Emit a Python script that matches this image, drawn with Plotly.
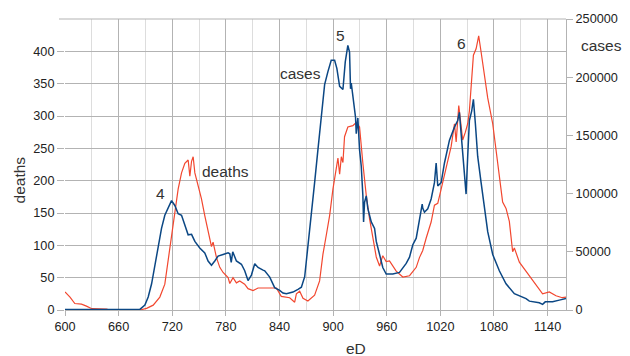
import plotly.graph_objects as go

# ---- data ----
deaths_x = [600, 605.6, 611, 618.5, 624, 630, 646.5, 650, 683.8, 691.3, 698.7, 706.1, 711.7, 715.4,
            719.2, 722.9, 726.6, 730.4, 734.1, 737.8, 739.7, 741.6, 743.4, 745.3, 748.9, 752.7,
            756.4, 760.1, 763.9, 765.7, 769.5, 773.2, 776.9, 782.5, 784.4, 788, 791.8, 795.5,
            801, 804.8, 810.4, 816, 825.4, 836.5, 842, 851.4, 857, 858.9, 862.6, 866.3, 871.8,
            879.3, 884.9, 888.6, 892.4, 896.1, 899.8, 903.6, 905.4, 907.3, 909.2, 911, 912.8,
            916.5, 922.1, 925.9, 929.6, 933.3, 937.1, 940.8, 944.5, 948.3, 952, 955.6, 959.4,
            963.1, 970.6, 978, 985.5, 993, 996.6, 1000.3, 1004.1, 1009.7, 1013.4, 1017.1, 1020.9,
            1026.5, 1032.1, 1035.8, 1037.7, 1040.6, 1043.2, 1045, 1048, 1050.6, 1052.5, 1054.4,
            1057, 1060, 1061.5, 1062.9, 1065.6, 1069.3, 1073, 1078.6, 1082.4, 1086, 1089.7,
            1093.5, 1097.2, 1100.9, 1102.8, 1108.4, 1115.9, 1121.4, 1127, 1134.4, 1141.9,
            1149.4, 1156.4, 1160.6]
deaths = [28, 20, 10, 9, 6, 2, 1.5, 0, 0, 2.5, 7.5, 20, 40, 76,
          121, 151, 187, 212, 227, 232, 207, 230, 237, 212, 194, 172,
          146, 121, 98, 105, 81, 66, 58, 50, 41, 50, 42, 45,
          40, 33, 30, 34, 34, 34, 21, 19, 12, 25, 29, 18, 14,
          23, 45, 86, 116, 146, 187, 222, 235, 210, 237, 228, 268,
          283, 285, 290, 283, 227, 177, 141, 111, 82, 68, 84, 75,
          76, 60, 51, 53, 66, 81, 92, 111, 136, 162, 165, 187,
          222, 253, 288, 260, 316, 288, 263, 275, 288, 308, 348,
          394, 404, 412, 424, 399, 364, 328, 288, 247, 202, 167,
          157, 137, 90, 96, 74, 60, 50, 40, 25, 28,
          22, 19, 20]

cases_x = [600, 683.8, 689.4, 693.1, 696.9, 700.6, 704.2, 708, 711.7, 715.4, 719.2, 722.9, 726.6,
           730.4, 734.1, 737.8, 741.6, 745.3, 750.8, 756.4, 760.1, 763.9, 767.6, 771.3, 776.9,
           782.5, 784.4, 786, 787.7, 791.8, 797.4, 801.1, 804.8, 808.6, 812.3, 816, 821.6,
           823.5, 829.1, 834.6, 840.2, 843.9, 847.7, 855.1, 860.7, 864.5, 868.2, 871.8, 875.6,
           879.3, 883, 886.8, 890.5, 894.2, 897.9, 901.7, 904.2, 907.3, 911, 913.6, 916.5,
           918.4, 919.5, 920.3, 922.1, 925.1, 925.9, 927.7, 929.6, 931.5, 933.3, 934.1, 935.2,
           937.1, 938.9, 942.7, 946.4, 948.3, 952, 955.6, 959.4, 966.8, 974.3, 981.8, 985.5,
           989.2, 993, 996.6, 999.7, 1000.3, 1002.2, 1005.9, 1009.7, 1013.4, 1015.3, 1017.1,
           1020.9, 1024.6, 1030.2, 1035.8, 1039.4, 1041.3, 1043.2, 1045, 1046.9, 1048.8, 1050.6,
           1052.5, 1055.1, 1057, 1059.2, 1061.8, 1065.6, 1069.3, 1073, 1078.6, 1086, 1093.5,
           1102.8, 1115.9, 1119.6, 1130.7, 1134.4, 1137.4, 1145.6, 1153.1, 1160.6]
cases = [500, 500, 4200, 11200, 22500, 39300, 56100, 70100, 81400, 88400, 94000, 89800, 82700,
         81400, 73000, 64600, 65000, 58900, 53300, 49100, 42100, 38500, 42100, 46300, 47700,
         49100, 48300, 41000, 50000, 42100, 39300, 33700, 25300, 30000, 39800, 36500, 34300,
         33700, 28300, 19200, 16800, 14600, 14000, 15400, 17800, 19600, 28600, 53300, 81400,
         109400, 137500, 168400, 193600, 204800, 214600, 214600, 207600, 192200, 189400, 213200, 227300,
         221600, 190000, 195000, 185200, 165500, 151500, 165000, 137500, 123500, 98200, 75700, 92600,
         98000, 87000, 75700, 70100, 58900, 47700, 36500, 30900, 30900, 32300, 40000, 45400,
         56100, 61700, 75700, 91000, 87500, 84000, 87000, 95400, 109400, 126300, 106600,
         109400, 126300, 145900, 157100, 162700, 169800, 151500, 137500, 120600, 99600, 131900,
         162700, 171100, 181000, 160000, 131900, 109400, 87000, 67300, 47700, 33700, 22500,
         14000, 9800, 7600, 6200, 4800, 7000, 7000, 8500, 9800]

x_ticks = [600, 660, 720, 780, 840, 900, 960, 1020, 1080, 1140]
deaths_ticks = [0, 50, 100, 150, 200, 250, 300, 350, 400]
cases_ticks = [0, 50000, 100000, 150000, 200000, 250000]

RED = "#f2472f"
BLUE = "#0b4784"
GRID = "#b3b3b3"
MINOR = "#dddddd"
FONT = "Liberation Sans"
TICKFONT = dict(family=FONT, size=12.7, color="#222222")

fig = go.Figure()
fig.add_trace(go.Scatter(x=deaths_x, y=deaths, mode="lines", name="deaths",
                         line=dict(color=RED, width=1.2), yaxis="y"))
fig.add_trace(go.Scatter(x=cases_x, y=cases, mode="lines", name="cases",
                         line=dict(color=BLUE, width=1.5), yaxis="y2"))

fig.update_layout(
    width=630, height=356,
    margin=dict(l=65, r=63, t=13, b=46),
    paper_bgcolor="white", plot_bgcolor="white",
    showlegend=False,
    font=dict(family=FONT),
    xaxis=dict(range=[600, 1160.6], tickvals=x_ticks, ticktext=[str(v) for v in x_ticks],
               showgrid=True, gridcolor=GRID, gridwidth=1,
               minor=dict(dtick=30, tick0=600, showgrid=True, gridcolor=MINOR, ticks=""),
               ticks="outside", ticklen=5, tickcolor=GRID,
               showline=True, linecolor=GRID, zeroline=False,
               tickfont=TICKFONT),
    yaxis=dict(range=[0, 450], tickvals=deaths_ticks, ticktext=[str(v) for v in deaths_ticks],
               showgrid=True, gridcolor=GRID,
               ticks="outside", ticklen=7, tickcolor=GRID, zeroline=False,
               showline=False, tickfont=TICKFONT),
    yaxis2=dict(range=[0, 250000], tickvals=cases_ticks, ticktext=[str(v) for v in cases_ticks],
                overlaying="y", side="right",
                showgrid=False, ticks="outside", ticklen=6, tickcolor=GRID,
                showline=True, linecolor=GRID, zeroline=False, tickfont=TICKFONT),
)

# top frame line (450 gridline)
fig.add_shape(type="line", xref="paper", yref="paper", x0=-0.012, x1=1, y0=1, y1=1,
              line=dict(color=GRID, width=1))

ann_font = dict(family=FONT, size=15.5, color="#333333")
labels = [("4", 706.7, 180.5), ("deaths", 779.9, 213.9), ("cases", 863.7, 365.5),
          ("5", 908.4, 423.9), ("6", 1044.1, 412.6)]
for txt, ax, ay in labels:
    fig.add_annotation(text=txt, x=ax, y=ay, xref="x", yref="y", showarrow=False,
                       xanchor="center", yanchor="middle", font=ann_font)

fig.add_annotation(text="cases", x=1.07, y=0.909, xref="paper", yref="paper", showarrow=False,
                   xanchor="center", yanchor="middle", font=ann_font)
fig.add_annotation(text="eD", x=0.581, y=-0.131, xref="paper", yref="paper", showarrow=False,
                   xanchor="center", yanchor="middle", font=ann_font)
fig.add_annotation(text="deaths", x=-0.0902, y=0.448, xref="paper", yref="paper", showarrow=False,
                   textangle=-90, xanchor="center", yanchor="middle", font=ann_font)

fig.write_html("out.html")
